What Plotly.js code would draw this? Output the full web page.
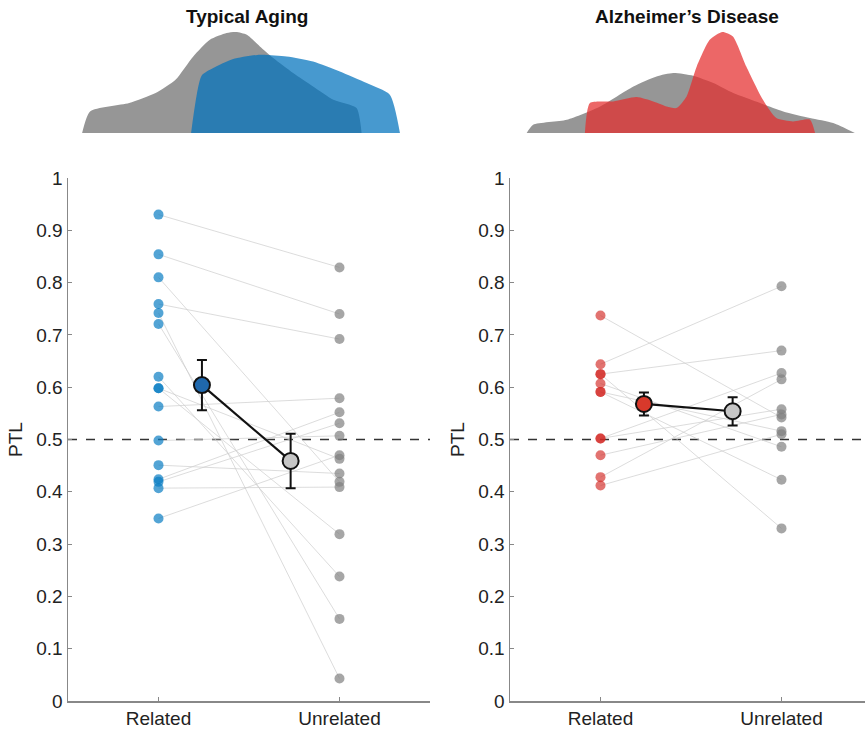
<!DOCTYPE html>
<html>
<head>
<meta charset="utf-8">
<script src="https://cdn.plot.ly/plotly-3.0.1.min.js"></script>
<style>html,body{margin:0;padding:0;background:#fff;}#chart{width:865px;height:731px;}</style>
</head>
<body>
<div id="chart"></div>
<script>
// ---- data ----
const conditions = ['Related', 'Unrelated'];
const conditionPos = [1, 2];
const meanPos = [1.24, 1.73];

// Typical Aging: paired participant values (Related -> Unrelated)
const taRelated   = [0.930, 0.854, 0.810, 0.759, 0.742, 0.721, 0.620, 0.598, 0.598, 0.563, 0.498, 0.451, 0.424, 0.419, 0.407, 0.349];
const taUnrelated = [0.829, 0.740, 0.419, 0.692, 0.043, 0.157, 0.238, 0.319, 0.463, 0.579, 0.507, 0.435, 0.552, 0.531, 0.409, 0.470];
const taMean = [0.604, 0.459];
const taSem  = [0.048, 0.052];

// Alzheimer's Disease: paired participant values
const adRelated   = [0.737, 0.644, 0.625, 0.625, 0.607, 0.591, 0.591, 0.502, 0.502, 0.470, 0.428, 0.412];
const adUnrelated = [0.542, 0.793, 0.670, 0.330, 0.486, 0.423, 0.516, 0.627, 0.558, 0.548, 0.615, 0.510];
const adMean = [0.568, 0.554];
const adSem  = [0.022, 0.027];

// density silhouettes (position 0-100 across panel, height)
const taGreyX = [3.9, 6.1, 16.9, 24.2, 29.7, 34.6, 39.2, 43.8, 46.4, 49.4, 53.0, 56.7, 62.2, 67.7, 73.3, 79.7, 81.1];
const taGreyY = [0, 21.6, 30, 40, 53.3, 76.6, 93.3, 100, 101, 98.3, 86.6, 75, 60, 46.6, 33.3, 25, 0];
const taBlueX = [34.0, 36.9, 40.1, 45.6, 53.0, 60.4, 67.7, 75.1, 82.5, 88.9, 91.7];
const taBlueY = [0, 57.3, 65, 74, 78.3, 76.6, 71.6, 61.6, 50, 38.3, 0];
const adGreyX = [4.6, 6.4, 15.7, 24.9, 34.1, 40.5, 45.1, 50.6, 56.2, 61.7, 69.1, 75.5, 82.9, 89.3, 95.3];
const adGreyY = [0, 8.3, 13.3, 26.6, 46.6, 56.6, 60, 57.3, 50, 40, 30, 21.6, 15, 10, 0];
const adRedX = [20.7, 22.1, 28.5, 35.0, 39.6, 43.3, 46.0, 48.8, 51.6, 55.2, 58.7, 61.6, 65.3, 69.9, 73.6, 78.2, 82.9, 84.3];
const adRedY = [0, 30, 31.6, 36, 31.6, 26.6, 25, 36.6, 66.6, 93.3, 101, 96.6, 66.6, 33.3, 15, 11.6, 13.3, 0];

// ---- styles ----
const FONT = 'Liberation Sans, Arial, Helvetica, sans-serif';
const blueDot = 'rgba(10,125,195,0.7)';
const redDot = 'rgba(210,40,35,0.65)';
const greyDot = 'rgba(128,128,128,0.7)';
const pairLine = 'rgba(205,205,205,0.7)';

function pairTrace(rel, unr, xa, ya) {
  const x = [], y = [];
  for (let i = 0; i < rel.length; i++) {
    x.push(conditionPos[0], conditionPos[1], null);
    y.push(rel[i], unr[i], null);
  }
  return {type:'scatter', mode:'lines', x, y, xaxis:xa, yaxis:ya,
    line:{color:pairLine, width:1}, hoverinfo:'skip', showlegend:false};
}
function dotTrace(vals, pos, color, xa, ya) {
  return {type:'scatter', mode:'markers', x: vals.map(() => pos), y: vals, xaxis:xa, yaxis:ya,
    marker:{size:10, color:color, line:{width:0}}, showlegend:false};
}
function meanTrace(mean, sem, fillA, fillB, xa, ya) {
  return {type:'scatter', mode:'lines+markers', x: meanPos, y: mean, xaxis:xa, yaxis:ya,
    line:{color:'#111', width:2.2},
    error_y:{type:'data', array:sem, visible:true, color:'#111', thickness:2, width:5},
    marker:{size:16, color:[fillA, fillB], line:{color:'#111', width:2}}, showlegend:false};
}
function densTrace(x, y, color, xa, ya) {
  return {type:'scatter', mode:'lines', x, y, xaxis:xa, yaxis:ya, fill:'tozeroy',
    fillcolor:color, line:{width:0, shape:'spline', smoothing:0.6, color:color}, hoverinfo:'skip', showlegend:false};
}

const data = [
  densTrace(taGreyX, taGreyY, 'rgb(150,150,150)', 'x3', 'y3'),
  densTrace(taBlueX, taBlueY, 'rgba(0,114,189,0.72)', 'x3', 'y3'),
  densTrace(adGreyX, adGreyY, 'rgb(150,150,150)', 'x4', 'y4'),
  densTrace(adRedX, adRedY, 'rgba(228,45,45,0.72)', 'x4', 'y4'),
  pairTrace(taRelated, taUnrelated, 'x', 'y'),
  dotTrace(taRelated, conditionPos[0], blueDot, 'x', 'y'),
  dotTrace(taUnrelated, conditionPos[1], greyDot, 'x', 'y'),
  meanTrace(taMean, taSem, '#1f68ad', '#c6c6c6', 'x', 'y'),
  pairTrace(adRelated, adUnrelated, 'x2', 'y2'),
  dotTrace(adRelated, conditionPos[0], redDot, 'x2', 'y2'),
  dotTrace(adUnrelated, conditionPos[1], greyDot, 'x2', 'y2'),
  meanTrace(adMean, adSem, '#d8392b', '#c6c6c6', 'x2', 'y2')
];

const yTicks = [0,0.1,0.2,0.3,0.4,0.5,0.6,0.7,0.8,0.9,1];
function xAxis(domain, range) {
  return {domain, range, tickvals:conditionPos, ticktext:conditions, ticks:'inside', ticklen:4,
    tickcolor:'#888', showline:true, linecolor:'#888', linewidth:1.5, showgrid:false, zeroline:false,
    tickfont:{family:FONT, size:19, color:'#222'}, fixedrange:true};
}
function yAxis(domain, anchor) {
  return {domain, anchor, range:[0,1], tickvals:yTicks, ticktext:yTicks.map(String), ticks:'inside', ticklen:4,
    tickcolor:'#888', showline:true, linecolor:'#888', linewidth:1.5, showgrid:false, zeroline:false,
    tickfont:{family:FONT, size:19, color:'#222'},
    title:{text:'PTL', font:{family:FONT, size:19, color:'#222'}, standoff:8}};
}
const mainTop = 523/691;
const densDom = [(701-133)/691, (701-28)/691];
const layout = {
  width:865, height:731, margin:{l:68, r:0, t:10, b:30},
  paper_bgcolor:'#fff', plot_bgcolor:'rgba(0,0,0,0)', showlegend:false,
  xaxis: xAxis([0, 362/797], [0.5, 2.5]),
  yaxis: yAxis([0, mainTop], 'x'),
  xaxis2: xAxis([442/797, 1], [0.5, 0.5 + 355/181]),
  yaxis2: yAxis([0, mainTop], 'x2'),
  xaxis3: {domain:[0, 362/797], range:[0,100], visible:false, fixedrange:true},
  yaxis3: {domain:densDom, range:[0,105], visible:false, anchor:'x3', fixedrange:true},
  xaxis4: {domain:[442/797, 1], range:[0,98.1], visible:false, fixedrange:true},
  yaxis4: {domain:densDom, range:[0,105], visible:false, anchor:'x4', fixedrange:true},
  shapes: [
    {type:'line', xref:'x domain', yref:'y', x0:0, x1:1, y0:0.5, y1:0.5, line:{color:'#333', width:1.5, dash:'dash'}, layer:'below'},
    {type:'line', xref:'x2 domain', yref:'y2', x0:0, x1:1, y0:0.5, y1:0.5, line:{color:'#333', width:1.5, dash:'dash'}, layer:'below'}
  ],
  annotations: [
    {text:'<b>Typical Aging</b>', xref:'paper', yref:'paper', x:(247-68)/797, y:(701-17)/691, xanchor:'center', yanchor:'middle', showarrow:false, font:{family:FONT, size:19, color:'#111'}},
    {text:'<b>Alzheimer’s Disease</b>', xref:'paper', yref:'paper', x:(687-68)/797, y:(701-17)/691, xanchor:'center', yanchor:'middle', showarrow:false, font:{family:FONT, size:19, color:'#111'}}
  ]
};
Plotly.newPlot('chart', data, layout, {staticPlot:true, displayModeBar:false});
</script>
</body>
</html>
